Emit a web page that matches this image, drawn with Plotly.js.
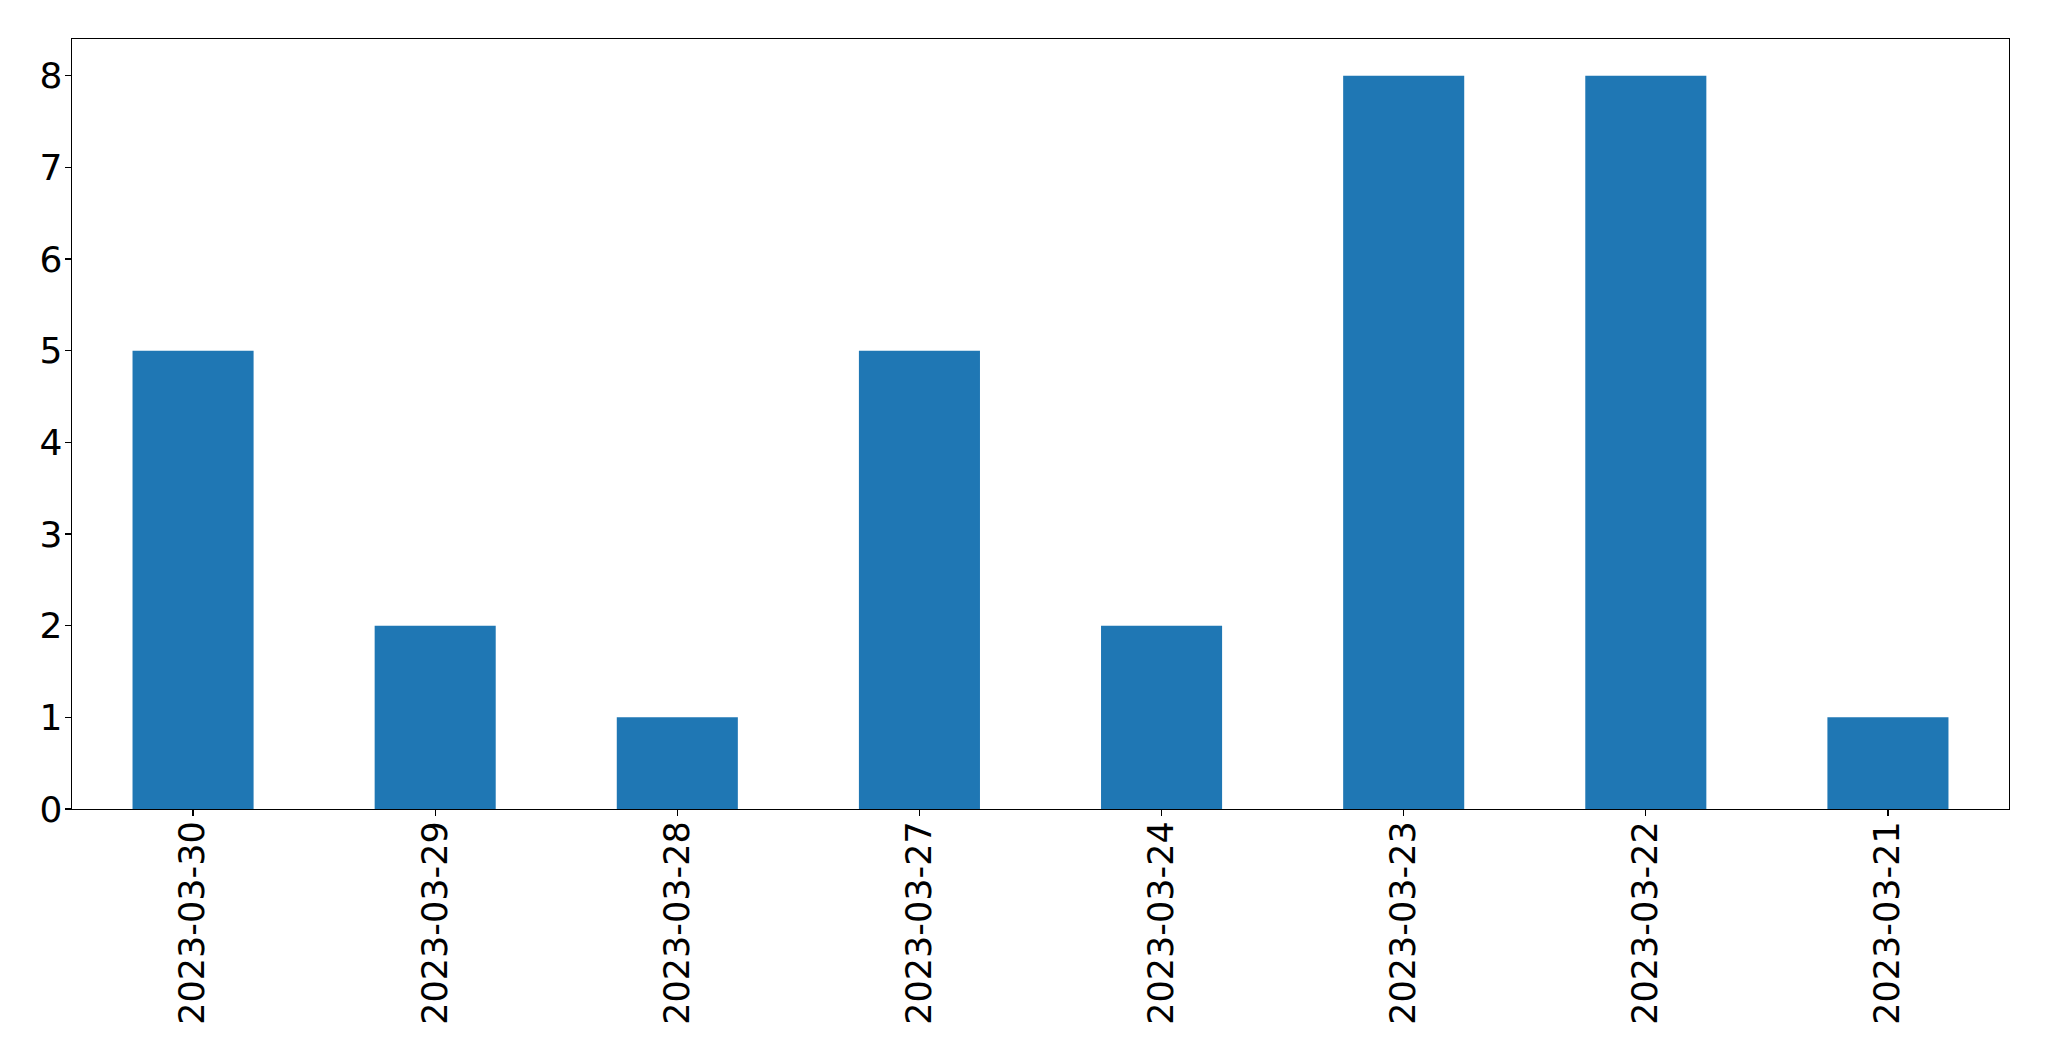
<!DOCTYPE html>
<html>
<head>
<meta charset="utf-8">
<script src="https://cdn.plot.ly/plotly-3.0.1.min.js"></script>
<style>html,body{margin:0;padding:0;background:#fff;}#chart{width:2049px;height:1061px;}</style>
</head>
<body>
<div id="chart"></div>
<script>
const categories = ["2023-03-30","2023-03-29","2023-03-28","2023-03-27","2023-03-24","2023-03-23","2023-03-22","2023-03-21"];
const values = [5, 2, 1, 5, 2, 8, 8, 1];
const yTicks = [0,1,2,3,4,5,6,7,8];

const trace = {
  type: 'bar',
  x: categories,
  y: values,
  marker: {color: '#1f77b4', line: {width: 0}},
  width: 0.5,
  hoverinfo: 'x+y'
};

const layout = {
  width: 2049,
  height: 1061,
  margin: {l: 72, r: 40, t: 39, b: 252, pad: 0},
  paper_bgcolor: '#fff',
  plot_bgcolor: '#fff',
  showlegend: false,
  font: {family: 'DejaVu Sans', size: 35, color: '#000'},
  xaxis: {
    type: 'category',
    range: [-0.5, 7.5],
    showline: true, mirror: true, linecolor: '#000', linewidth: 1.3,
    showgrid: false, zeroline: false,
    ticks: 'outside', ticklen: 6, tickwidth: 1.3, tickcolor: '#000',
    tickangle: -90,
    ticklabelstandoff: -9,
    tickfont: {family: 'DejaVu Sans', size: 35, color: '#000'},
    automargin: false
  },
  yaxis: {
    range: [0, 8.4],
    tickvals: yTicks,
    ticktext: yTicks.map(String),
    showline: true, mirror: true, linecolor: '#000', linewidth: 1.3,
    showgrid: false, zeroline: false,
    ticks: 'outside', ticklen: 6, tickwidth: 1.3, tickcolor: '#000',
    ticklabelstandoff: -5,
    tickfont: {family: 'DejaVu Sans', size: 36, color: '#000'},
    automargin: false
  }
};

Plotly.newPlot('chart', [trace], layout, {displayModeBar: false, staticPlot: true});
</script>
</body>
</html>
